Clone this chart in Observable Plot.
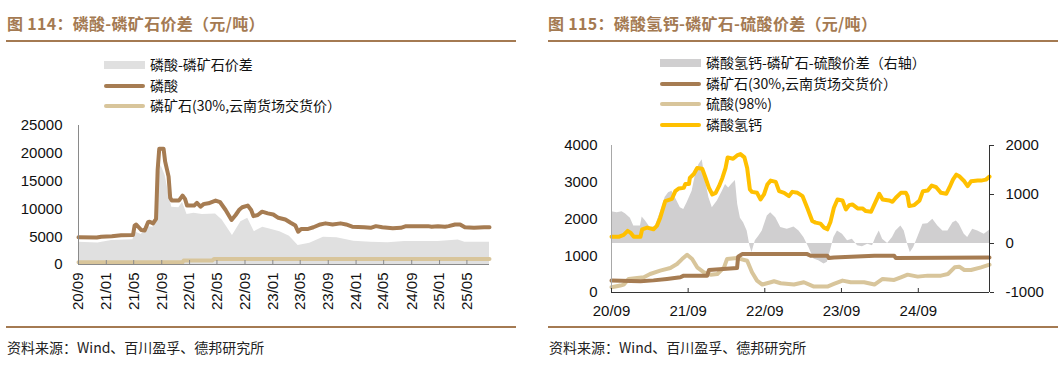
<!DOCTYPE html>
<html>
<head>
<meta charset="utf-8">
<script src="https://cdn.jsdelivr.net/npm/d3@7"></script>
<script src="https://cdn.jsdelivr.net/npm/@observablehq/plot@0.6"></script>
<style>
  html, body { margin: 0; padding: 0; background: #fff; }
  #root { position: relative; width: 1063px; height: 369px; overflow: hidden; background: #fff; font-family: "Noto Sans CJK SC", "Liberation Sans", sans-serif; }
  .title { position: absolute; top: 11px; font-size: 16px; font-weight: bold; color: #A47A52; white-space: nowrap; letter-spacing: 0.3px; }
  .hr { position: absolute; height: 2px; background: #A47A52; }
  .caption { position: absolute; top: 337px; font-size: 14px; color: #222; white-space: nowrap; }
  .leg { position: absolute; font-size: 14px; color: #111; white-space: nowrap; line-height: 20px; }
  .leg .row { position: relative; height: 20.5px; }
  .leg .sw { position: absolute; left: 0; width: 41px; }
  .leg .txt { position: absolute; left: 46px; top: -1px; }
  .chart { position: absolute; }
</style>
</head>
<body>
<div id="root">
  <div class="title" style="left:7px">图 114：磷酸-磷矿石价差（元/吨）</div>
  <div class="hr" style="left:6px; width:510px; top:40px"></div>
  <div class="title" style="left:548px">图 115：磷酸氢钙-磷矿石-硫酸价差（元/吨）</div>
  <div class="hr" style="left:548px; width:510px; top:40px"></div>
  <div id="leg1" class="leg" style="left:104px; top:55px"></div>
  <div id="leg2" class="leg" style="left:660px; top:53px"></div>
  <div id="c1" class="chart" style="left:0; top:110px"></div>
  <div id="c2" class="chart" style="left:547px; top:130px"></div>
  <div class="hr" style="left:6px; width:510px; top:326px"></div>
  <div class="hr" style="left:548px; width:510px; top:326px"></div>
  <div class="caption" style="left:7px">资料来源：Wind、百川盈孚、德邦研究所</div>
  <div class="caption" style="left:549px">资料来源：Wind、百川盈孚、德邦研究所</div>
</div>
<script>
// ---------------- Chart 114 data ----------------
const leftXTicks = ["2020-09-01","2021-01-01","2021-05-01","2021-09-01","2022-01-01","2022-05-01","2022-09-01","2023-01-01","2023-05-01","2023-09-01","2024-01-01","2024-05-01","2024-09-01","2025-01-01","2025-05-01"];
const leftYTicks = [0, 5000, 10000, 15000, 20000, 25000];
const leftXDomain = ["2020-09-01", "2025-08-08"];
const leftNames = ["磷酸-磷矿石价差", "磷酸", "磷矿石(30%,云南货场交货价）"];

// 磷酸
const acidSeries = [
["2020-09-01",4900],["2020-11-20",4850],["2020-12-10",5000],["2021-01-25",5100],["2021-03-07",5250],["2021-04-28",5300],["2021-05-05",7000],["2021-05-12",7200],["2021-06-03",6200],["2021-06-18",6100],["2021-07-03",7600],["2021-07-10",7700],["2021-07-25",7400],["2021-08-07",8200],["2021-08-14",17000],["2021-08-21",20800],["2021-09-09",20800],["2021-09-16",18500],["2021-10-01",15800],["2021-10-08",12000],["2021-10-15",11500],["2021-11-15",11500],["2021-12-01",12400],["2021-12-12",11800],["2021-12-21",10600],["2022-01-21",10600],["2022-02-02",11100],["2022-02-18",10400],["2022-03-05",10900],["2022-03-25",11000],["2022-04-25",11500],["2022-05-15",11200],["2022-06-08",9800],["2022-07-04",8000],["2022-07-22",8900],["2022-08-08",9900],["2022-08-20",10300],["2022-09-13",10600],["2022-09-28",9800],["2022-10-08",8700],["2022-10-27",8900],["2022-11-15",9500],["2022-12-10",9200],["2023-01-03",9000],["2023-01-25",8400],["2023-02-25",8100],["2023-03-20",7500],["2023-04-10",7000],["2023-04-22",5900],["2023-05-05",6400],["2023-06-05",6400],["2023-06-28",6700],["2023-07-28",7200],["2023-08-20",7400],["2023-09-20",7200],["2023-10-25",7400],["2023-11-18",7200],["2023-12-15",6800],["2024-02-05",6700],["2024-03-05",6600],["2024-03-28",6900],["2024-04-25",6700],["2024-06-10",6500],["2024-07-15",6600],["2024-08-07",6900],["2024-09-28",6900],["2024-11-12",6900],["2024-11-27",6800],["2024-12-25",6900],["2025-01-25",6800],["2025-02-10",6900],["2025-03-10",7200],["2025-04-01",7200],["2025-04-22",6700],["2025-06-01",6600],["2025-07-15",6700],["2025-08-08",6700]
];
// 磷矿石(30%)
const rockSeriesL = [
["2020-09-01",400],["2021-12-01",400],["2021-12-06",700],["2022-04-10",700],["2022-04-18",1000],["2025-08-08",1000]
];
// 磷酸-磷矿石价差
const spreadSeriesL = [
["2020-09-01",4000],["2020-11-25",3850],["2021-01-24",4300],["2021-04-28",4450],["2021-05-05",5900],["2021-06-03",5400],["2021-07-03",6800],["2021-07-25",6700],["2021-08-07",7500],["2021-08-17",15500],["2021-08-29",17800],["2021-09-16",16000],["2021-10-01",12800],["2021-10-15",10300],["2021-11-15",10200],["2021-12-01",11200],["2021-12-21",9000],["2022-01-20",9200],["2022-02-26",9000],["2022-04-25",9100],["2022-05-24",8000],["2022-07-08",5200],["2022-08-14",7700],["2022-09-13",8300],["2022-10-12",5900],["2022-11-18",6700],["2022-12-18",6400],["2023-02-01",5900],["2023-03-15",5100],["2023-04-22",3400],["2023-06-12",3800],["2023-08-11",4900],["2023-10-09",4800],["2023-12-22",4200],["2024-03-05",4000],["2024-05-20",3900],["2024-08-01",4150],["2024-12-25",4150],["2025-03-24",4400],["2025-04-22",4000],["2025-08-08",4000]
];

// ---------------- Chart 115 data ----------------
const rightXTicks = ["2020-09-01","2021-09-01","2022-09-01","2023-09-01","2024-09-01"];
const rightYTicksL = [0, 1000, 2000, 3000, 4000];
const rightYTicksR = [-1000, 0, 1000, 2000];
const rightXDomain = ["2020-09-01", "2025-08-06"];
const rightNames = ["磷酸氢钙-磷矿石-硫酸价差（右轴）", "磷矿石(30%,云南货场交货价）", "硫酸(98%)", "磷酸氢钙"];

// 磷酸氢钙
const dcpSeries = [
["2020-09-01",1514],["2020-10-05",1514],["2020-10-29",1568],["2020-11-17",1676],["2020-11-30",1630],["2020-12-16",1514],["2021-01-17",1514],["2021-01-25",1720],["2021-02-18",1766],["2021-03-20",1720],["2021-04-05",1811],["2021-04-21",2036],["2021-05-15",2486],["2021-06-16",2550],["2021-07-02",2757],["2021-07-18",2829],["2021-08-11",2847],["2021-08-19",2955],["2021-09-05",2955],["2021-09-09",3117],["2021-09-28",3225],["2021-10-14",3387],["2021-11-07",3370],["2021-11-23",3117],["2021-12-09",2847],["2021-12-25",2667],["2022-01-10",2712],["2022-01-26",2892],["2022-02-11",3117],["2022-02-26",3387],["2022-03-08",3676],["2022-04-03",3640],["2022-04-22",3730],["2022-05-08",3766],["2022-05-27",3676],["2022-06-09",3387],["2022-06-22",2802],["2022-07-02",2739],["2022-07-26",2712],["2022-08-12",2532],["2022-08-28",2667],["2022-09-13",2937],["2022-09-29",3045],["2022-10-23",3009],["2022-11-08",2757],["2022-12-02",2712],["2022-12-25",2622],["2023-01-10",2739],["2023-02-04",2712],["2023-02-28",2622],["2023-03-22",2306],["2023-04-15",1946],["2023-05-01",1901],["2023-05-24",1874],["2023-06-10",1766],["2023-06-26",1720],["2023-07-11",1928],["2023-07-27",2306],["2023-08-13",2532],["2023-09-06",2505],["2023-09-22",2261],["2023-10-08",2378],["2023-10-23",2396],["2023-11-17",2288],["2023-12-10",2288],["2023-12-26",2216],["2024-01-20",2198],["2024-02-05",2396],["2024-02-28",2685],["2024-03-15",2532],["2024-04-15",2505],["2024-05-01",2468],["2024-05-17",2577],["2024-06-10",2712],["2024-07-04",2712],["2024-07-12",2622],["2024-07-20",2351],["2024-08-13",2378],["2024-09-07",2505],["2024-09-23",2757],["2024-10-16",2775],["2024-11-04",2910],["2024-11-25",2865],["2024-12-18",2712],["2025-01-12",2685],["2025-01-28",2865],["2025-02-13",3072],["2025-03-01",3207],["2025-03-15",3162],["2025-04-08",3027],["2025-04-24",2892],["2025-05-10",3027],["2025-06-11",3045],["2025-06-27",3045],["2025-07-20",3072],["2025-08-06",3153]
];
// 磷矿石(30%)
const rockSeriesR = [
["2020-09-01",324],["2021-01-17",306],["2021-03-20",330],["2021-05-23",369],["2021-07-26",414],["2021-08-11",459],["2021-12-01",459],["2021-12-09",613],["2022-04-22",667],["2022-04-27",973],["2022-05-16",1045],["2023-03-22",1045],["2023-04-07",1000],["2023-06-26",1000],["2023-07-03",937],["2023-07-27",955],["2024-02-05",1000],["2024-05-09",1000],["2024-05-17",937],["2025-08-06",955]
];
// 硫酸(98%)
const sulfSeries = [
["2020-09-01",144],["2020-10-13",189],["2020-10-29",216],["2020-11-22",369],["2021-01-01",396],["2021-02-02",414],["2021-03-04",504],["2021-04-21",595],["2021-06-08",667],["2021-07-10",775],["2021-08-03",910],["2021-08-27",1027],["2021-09-20",910],["2021-10-14",685],["2021-11-15",550],["2021-12-17",486],["2022-01-18",504],["2022-02-19",685],["2022-03-05",910],["2022-04-22",937],["2022-06-09",865],["2022-07-02",550],["2022-07-26",324],["2022-08-20",216],["2022-09-29",279],["2022-10-15",306],["2022-11-16",252],["2023-01-18",216],["2023-03-06",279],["2023-04-23",162],["2023-06-26",162],["2023-07-27",234],["2023-09-06",324],["2023-10-15",279],["2023-12-18",279],["2024-02-05",216],["2024-03-15",369],["2024-05-09",342],["2024-06-10",414],["2024-07-12",486],["2024-08-29",432],["2024-10-16",459],["2024-12-18",459],["2025-01-20",504],["2025-02-21",685],["2025-03-15",703],["2025-04-08",613],["2025-05-10",613],["2025-06-27",685],["2025-08-06",757]
];
// 磷酸氢钙-磷矿石-硫酸价差（右轴）
const spreadSeriesR = [
["2020-09-01",649],["2020-09-28",628],["2020-10-21",649],["2020-11-06",608],["2020-11-30",514],["2020-12-16",358],["2021-01-17",358],["2021-01-25",540],["2021-02-10",459],["2021-03-04",324],["2021-03-28",340],["2021-04-21",628],["2021-05-15",946],["2021-05-31",1034],["2021-06-16",1068],["2021-07-02",932],["2021-07-26",730],["2021-08-11",696],["2021-08-27",831],["2021-09-20",1068],["2021-10-06",1405],["2021-10-22",1608],["2021-11-07",1709],["2021-11-23",1270],["2021-12-09",932],["2021-12-25",730],["2022-01-18",865],["2022-02-11",1068],["2022-02-26",1203],["2022-03-13",1135],["2022-03-29",1216],["2022-04-14",1284],["2022-04-25",797],["2022-05-08",514],["2022-05-23",426],["2022-06-09",257],["2022-06-22",-47],["2022-07-02",-182],["2022-07-18",54],["2022-08-04",155],["2022-08-20",257],["2022-09-13",561],["2022-09-29",628],["2022-10-23",527],["2022-11-16",324],["2022-12-17",290],["2023-01-18",338],["2023-02-11",257],["2023-03-06",122],["2023-03-30",-81],["2023-04-23",-318],["2023-05-16",-351],["2023-06-10",-419],["2023-06-26",-385],["2023-07-11",-149],["2023-07-27",122],["2023-08-13",257],["2023-09-06",189],["2023-09-30",54],["2023-10-23",88],["2023-11-17",-47],["2023-12-10",-68],["2024-01-04",-14],["2024-01-27",-47],["2024-02-12",122],["2024-02-28",257],["2024-03-15",88],["2024-04-08",0],["2024-05-01",122],["2024-05-17",257],["2024-06-10",358],["2024-06-26",257],["2024-07-12",-14],["2024-07-25",-182],["2024-08-10",-81],["2024-08-29",122],["2024-09-23",392],["2024-10-16",405],["2024-11-09",493],["2024-12-03",358],["2024-12-27",257],["2025-01-20",257],["2025-02-13",426],["2025-03-01",459],["2025-03-15",392],["2025-04-08",189],["2025-04-24",122],["2025-05-18",290],["2025-06-11",257],["2025-07-12",189],["2025-08-06",270]
];

// ---------------- colors ----------------
const cBrown = "#A67C52", cBeige = "#D8C59B", cYellow = "#FFC000", cGrayL = "#E0E0E0", cGrayR = "#D0CFD0";

const parse = d3.utcParse("%Y-%m-%d");
const toRows = s => s.map(([d, v]) => ({date: parse(d), value: v}));
const fmtX = d3.utcFormat("%y/%m");
const tickFont = "'Liberation Sans', Arial, sans-serif";

// ---------------- legends ----------------
function legend(el, items) {
  const root = document.getElementById(el);
  items.forEach(it => {
    const row = document.createElement("div"); row.className = "row";
    const sw = document.createElement("div"); sw.className = "sw";
    if (it.type === "area") {
      sw.style.cssText += `top:6px;height:8px;background:${it.color};`;
    } else {
      sw.style.cssText += `top:8px;height:4px;border-radius:2px;background:${it.color};`;
    }
    const tx = document.createElement("div"); tx.className = "txt"; tx.textContent = it.name;
    row.appendChild(sw); row.appendChild(tx); root.appendChild(row);
  });
}
legend("leg1", [
  {name: leftNames[0], color: cGrayL, type: "area"},
  {name: leftNames[1], color: cBrown, type: "line"},
  {name: leftNames[2], color: cBeige, type: "line"}
]);
legend("leg2", [
  {name: rightNames[0], color: cGrayR, type: "area"},
  {name: rightNames[1], color: cBrown, type: "line"},
  {name: rightNames[2], color: cBeige, type: "line"},
  {name: rightNames[3], color: cYellow, type: "line"}
]);

// ---------------- chart 114 ----------------
const xDomL = leftXDomain.map(parse);
const c1 = Plot.plot({
  width: 516, height: 210,
  marginLeft: 78, marginRight: 27, marginTop: 15, marginBottom: 56,
  x: {type: "utc", domain: xDomL, label: null},
  y: {domain: [0, 25000], label: null},
  style: {fontFamily: tickFont, fontSize: "15px", color: "#111", background: "transparent", overflow: "visible"},
  marks: [
    Plot.areaY(toRows(spreadSeriesL), {x: "date", y: "value", fill: cGrayL}),
    Plot.lineY(toRows(rockSeriesL), {x: "date", y: "value", stroke: cBeige, strokeWidth: 4}),
    Plot.lineY(toRows(acidSeries), {x: "date", y: "value", stroke: cBrown, strokeWidth: 4, strokeLinejoin: "round"}),
    Plot.ruleX([xDomL[0]], {stroke: "#8a8a8a"}),
    Plot.ruleY([0], {stroke: "#8a8a8a"}),
    Plot.axisY(leftYTicks, {tickSize: 0, tickPadding: 16, tickFormat: d => String(d), fontSize: 15, label: null}),
    Plot.axisX(leftXTicks.map(parse), {tickSize: -4, tickPadding: 12, tickRotate: -90, tickFormat: fmtX, stroke: "#8a8a8a", fontSize: 15, label: null})
  ]
});
document.getElementById("c1").appendChild(c1);

// ---------------- chart 115 ----------------
const xDomR = rightXDomain.map(parse);
const rMin = rightYTicksR[0], rMax = rightYTicksR[rightYTicksR.length - 1];
const lMax = rightYTicksL[rightYTicksL.length - 1];
const toLeft = v => (v - rMin) * lMax / (rMax - rMin);
const fromLeft = v => Math.round(v * (rMax - rMin) / lMax + rMin);
const c2 = Plot.plot({
  width: 516, height: 190,
  marginLeft: 64, marginRight: 74, marginTop: 15, marginBottom: 28,
  x: {type: "utc", domain: xDomR, label: null},
  y: {domain: [0, lMax], label: null},
  style: {fontFamily: tickFont, fontSize: "15px", color: "#111", background: "transparent", overflow: "visible"},
  marks: [
    Plot.areaY(toRows(spreadSeriesR), {x: "date", y1: () => toLeft(0), y2: d => toLeft(d.value), fill: cGrayR}),
    Plot.lineY(toRows(sulfSeries), {x: "date", y: "value", stroke: cBeige, strokeWidth: 4, strokeLinejoin: "round"}),
    Plot.lineY(toRows(rockSeriesR), {x: "date", y: "value", stroke: cBrown, strokeWidth: 4}),
    Plot.lineY(toRows(dcpSeries), {x: "date", y: "value", stroke: cYellow, strokeWidth: 4, strokeLinejoin: "round"}),
    Plot.ruleX([xDomR[0]], {stroke: "#a8a8a8"}),
    Plot.ruleX([xDomR[1]], {stroke: "#333"}),
    Plot.ruleY([0], {stroke: "#333"}),
    Plot.axisY(rightYTicksL, {anchor: "left", tickSize: 0, tickPadding: 14, tickFormat: d => String(d), fontSize: 15, label: null}),
    Plot.axisY(rightYTicksR.map(toLeft), {anchor: "right", tickSize: 4, tickPadding: 12, tickFormat: d => String(fromLeft(d)), stroke: "#333", fontSize: 15, label: null}),
    Plot.axisX(rightXTicks.map(parse), {tickSize: -4, tickPadding: 17, tickFormat: fmtX, stroke: "#333", fontSize: 15, label: null})
  ]
});
document.getElementById("c2").appendChild(c2);
</script>
</body>
</html>
